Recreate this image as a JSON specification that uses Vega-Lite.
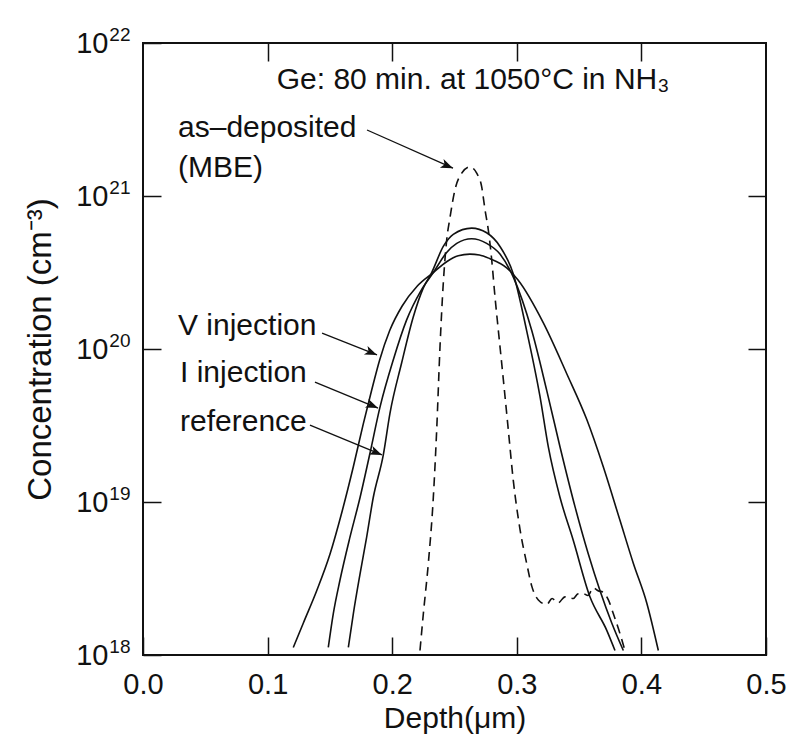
{
  "$schema": "https://vega.github.io/schema/vega-lite/v6.json",
  "width": 623,
  "height": 612,
  "autosize": {"type": "none"},
  "padding": {"left": 143, "top": 43, "right": 30, "bottom": 92},
  "background": "white",
  "config": {
    "font": "Liberation Sans",
    "view": {"stroke": "#111111", "strokeWidth": 2},
    "axis": {
      "grid": false,
      "domain": false,
      "tickColor": "#111111",
      "tickWidth": 1.5,
      "tickSize": -18,
      "labelFont": "Liberation Sans",
      "labelFontSize": 29,
      "labelColor": "#111111",
      "labelOverlap": false,
      "labelBound": false,
      "labelFlush": false,
      "titleFont": "Liberation Sans",
      "titleFontSize": 30,
      "titleFontWeight": "normal",
      "titleColor": "#111111"
    }
  },
  "datasets": {
    "profiles": [
      {"series": "V injection", "depth": 0.1206, "conc": 1.12e18},
      {"series": "V injection", "depth": 0.1287, "conc": 1.62e18},
      {"series": "V injection", "depth": 0.1394, "conc": 2.63e18},
      {"series": "V injection", "depth": 0.1501, "conc": 4.57e18},
      {"series": "V injection", "depth": 0.1595, "conc": 8.51e18},
      {"series": "V injection", "depth": 0.1688, "conc": 1.70e19},
      {"series": "V injection", "depth": 0.1768, "conc": 3.24e19},
      {"series": "V injection", "depth": 0.1835, "conc": 5.37e19},
      {"series": "V injection", "depth": 0.1900, "conc": 8.51e19},
      {"series": "V injection", "depth": 0.1980, "conc": 1.32e20},
      {"series": "V injection", "depth": 0.2080, "conc": 1.91e20},
      {"series": "V injection", "depth": 0.2200, "conc": 2.57e20},
      {"series": "V injection", "depth": 0.2330, "conc": 3.16e20},
      {"series": "V injection", "depth": 0.2437, "conc": 3.72e20},
      {"series": "V injection", "depth": 0.2530, "conc": 4.07e20},
      {"series": "V injection", "depth": 0.2624, "conc": 4.17e20},
      {"series": "V injection", "depth": 0.2700, "conc": 4.12e20},
      {"series": "V injection", "depth": 0.2785, "conc": 3.89e20},
      {"series": "V injection", "depth": 0.2919, "conc": 3.39e20},
      {"series": "V injection", "depth": 0.3010, "conc": 2.82e20},
      {"series": "V injection", "depth": 0.3213, "conc": 1.48e20},
      {"series": "V injection", "depth": 0.3400, "conc": 6.92e19},
      {"series": "V injection", "depth": 0.3561, "conc": 3.47e19},
      {"series": "V injection", "depth": 0.3694, "conc": 1.70e19},
      {"series": "V injection", "depth": 0.3828, "conc": 7.59e18},
      {"series": "V injection", "depth": 0.3935, "conc": 3.98e18},
      {"series": "V injection", "depth": 0.4043, "conc": 2.19e18},
      {"series": "V injection", "depth": 0.4136, "conc": 1.07e18},

      {"series": "I injection", "depth": 0.1487, "conc": 1.12e18},
      {"series": "I injection", "depth": 0.1527, "conc": 1.86e18},
      {"series": "I injection", "depth": 0.1581, "conc": 3.09e18},
      {"series": "I injection", "depth": 0.1661, "conc": 5.89e18},
      {"series": "I injection", "depth": 0.1742, "conc": 1.07e19},
      {"series": "I injection", "depth": 0.1822, "conc": 2.09e19},
      {"series": "I injection", "depth": 0.1902, "conc": 4.17e19},
      {"series": "I injection", "depth": 0.2009, "conc": 8.51e19},
      {"series": "I injection", "depth": 0.2116, "conc": 1.55e20},
      {"series": "I injection", "depth": 0.2230, "conc": 2.40e20},
      {"series": "I injection", "depth": 0.2330, "conc": 3.16e20},
      {"series": "I injection", "depth": 0.2437, "conc": 4.27e20},
      {"series": "I injection", "depth": 0.2518, "conc": 4.90e20},
      {"series": "I injection", "depth": 0.2638, "conc": 5.25e20},
      {"series": "I injection", "depth": 0.2758, "conc": 4.90e20},
      {"series": "I injection", "depth": 0.2865, "conc": 4.17e20},
      {"series": "I injection", "depth": 0.2972, "conc": 2.95e20},
      {"series": "I injection", "depth": 0.3120, "conc": 1.32e20},
      {"series": "I injection", "depth": 0.3240, "conc": 5.37e19},
      {"series": "I injection", "depth": 0.3347, "conc": 2.29e19},
      {"series": "I injection", "depth": 0.3467, "conc": 9.33e18},
      {"series": "I injection", "depth": 0.3574, "conc": 4.57e18},
      {"series": "I injection", "depth": 0.3668, "conc": 2.63e18},
      {"series": "I injection", "depth": 0.3762, "conc": 1.62e18},
      {"series": "I injection", "depth": 0.3855, "conc": 1.07e18},

      {"series": "reference", "depth": 0.1648, "conc": 1.12e18},
      {"series": "reference", "depth": 0.1688, "conc": 1.86e18},
      {"series": "reference", "depth": 0.1742, "conc": 3.39e18},
      {"series": "reference", "depth": 0.1795, "conc": 5.89e18},
      {"series": "reference", "depth": 0.1848, "conc": 1.07e19},
      {"series": "reference", "depth": 0.1929, "conc": 2.04e19},
      {"series": "reference", "depth": 0.1982, "conc": 3.80e19},
      {"series": "reference", "depth": 0.2076, "conc": 8.13e19},
      {"series": "reference", "depth": 0.2169, "conc": 1.62e20},
      {"series": "reference", "depth": 0.2250, "conc": 2.51e20},
      {"series": "reference", "depth": 0.2317, "conc": 3.16e20},
      {"series": "reference", "depth": 0.2410, "conc": 4.68e20},
      {"series": "reference", "depth": 0.2490, "conc": 5.62e20},
      {"series": "reference", "depth": 0.2638, "conc": 6.17e20},
      {"series": "reference", "depth": 0.2758, "conc": 5.75e20},
      {"series": "reference", "depth": 0.2865, "conc": 4.68e20},
      {"series": "reference", "depth": 0.2972, "conc": 3.09e20},
      {"series": "reference", "depth": 0.3079, "conc": 1.32e20},
      {"series": "reference", "depth": 0.3186, "conc": 4.90e19},
      {"series": "reference", "depth": 0.3253, "conc": 2.29e19},
      {"series": "reference", "depth": 0.3347, "conc": 1.07e19},
      {"series": "reference", "depth": 0.3453, "conc": 5.62e18},
      {"series": "reference", "depth": 0.3587, "conc": 2.40e18},
      {"series": "reference", "depth": 0.3722, "conc": 1.45e18},
      {"series": "reference", "depth": 0.3788, "conc": 1.07e18}
    ],
    "asdep": [
      {"series": "as-deposited (MBE)", "depth": 0.2223, "conc": 1.07e18},
      {"series": "as-deposited (MBE)", "depth": 0.2250, "conc": 1.86e18},
      {"series": "as-deposited (MBE)", "depth": 0.2290, "conc": 3.98e18},
      {"series": "as-deposited (MBE)", "depth": 0.2330, "conc": 1.07e19},
      {"series": "as-deposited (MBE)", "depth": 0.2357, "conc": 2.95e19},
      {"series": "as-deposited (MBE)", "depth": 0.2384, "conc": 1.05e20},
      {"series": "as-deposited (MBE)", "depth": 0.2410, "conc": 2.69e20},
      {"series": "as-deposited (MBE)", "depth": 0.2437, "conc": 5.13e20},
      {"series": "as-deposited (MBE)", "depth": 0.2464, "conc": 7.24e20},
      {"series": "as-deposited (MBE)", "depth": 0.2504, "conc": 1.10e21},
      {"series": "as-deposited (MBE)", "depth": 0.2558, "conc": 1.41e21},
      {"series": "as-deposited (MBE)", "depth": 0.2624, "conc": 1.55e21},
      {"series": "as-deposited (MBE)", "depth": 0.2678, "conc": 1.41e21},
      {"series": "as-deposited (MBE)", "depth": 0.2718, "conc": 1.15e21},
      {"series": "as-deposited (MBE)", "depth": 0.2745, "conc": 8.13e20},
      {"series": "as-deposited (MBE)", "depth": 0.2771, "conc": 6.03e20},
      {"series": "as-deposited (MBE)", "depth": 0.2799, "conc": 3.80e20},
      {"series": "as-deposited (MBE)", "depth": 0.2825, "conc": 2.19e20},
      {"series": "as-deposited (MBE)", "depth": 0.2852, "conc": 1.32e20},
      {"series": "as-deposited (MBE)", "depth": 0.2892, "conc": 6.31e19},
      {"series": "as-deposited (MBE)", "depth": 0.2932, "conc": 2.95e19},
      {"series": "as-deposited (MBE)", "depth": 0.2972, "conc": 1.38e19},
      {"series": "as-deposited (MBE)", "depth": 0.3026, "conc": 6.61e18},
      {"series": "as-deposited (MBE)", "depth": 0.3079, "conc": 3.98e18},
      {"series": "as-deposited (MBE)", "depth": 0.3120, "conc": 2.82e18},
      {"series": "as-deposited (MBE)", "depth": 0.3173, "conc": 2.29e18},
      {"series": "as-deposited (MBE)", "depth": 0.3240, "conc": 2.14e18},
      {"series": "as-deposited (MBE)", "depth": 0.3283, "conc": 2.34e18},
      {"series": "as-deposited (MBE)", "depth": 0.3331, "conc": 2.19e18},
      {"series": "as-deposited (MBE)", "depth": 0.3387, "conc": 2.40e18},
      {"series": "as-deposited (MBE)", "depth": 0.3453, "conc": 2.34e18},
      {"series": "as-deposited (MBE)", "depth": 0.3491, "conc": 2.51e18},
      {"series": "as-deposited (MBE)", "depth": 0.3534, "conc": 2.51e18},
      {"series": "as-deposited (MBE)", "depth": 0.3571, "conc": 2.45e18},
      {"series": "as-deposited (MBE)", "depth": 0.3614, "conc": 2.75e18},
      {"series": "as-deposited (MBE)", "depth": 0.3652, "conc": 2.63e18},
      {"series": "as-deposited (MBE)", "depth": 0.3694, "conc": 2.57e18},
      {"series": "as-deposited (MBE)", "depth": 0.3735, "conc": 2.29e18},
      {"series": "as-deposited (MBE)", "depth": 0.3775, "conc": 1.86e18},
      {"series": "as-deposited (MBE)", "depth": 0.3828, "conc": 1.38e18},
      {"series": "as-deposited (MBE)", "depth": 0.3868, "conc": 1.07e18}
    ],
    "notes": [
      {"kind": "title", "text": "Ge: 80 min. at 1050°C in NH₃", "depth": 0.2649, "conc": 5.75e21},
      {"kind": "label", "text": "as–deposited", "depth": 0.0281, "conc": 2.78e21},
      {"kind": "label", "text": "(MBE)", "depth": 0.0281, "conc": 1.52e21},
      {"kind": "label", "text": "V injection", "depth": 0.0281, "conc": 1.41e20},
      {"kind": "label", "text": "I injection", "depth": 0.0297, "conc": 6.97e19},
      {"kind": "label", "text": "reference", "depth": 0.0297, "conc": 3.33e19}
    ],
    "arrows": [
      {"target": "as-deposited (MBE)", "depth": 0.1798, "conc": 2.70e21, "depth_tip": 0.2488, "conc_tip": 1.52e21},
      {"target": "V injection", "depth": 0.1437, "conc": 1.27e20, "depth_tip": 0.1878, "conc_tip": 9.14e19},
      {"target": "I injection", "depth": 0.1380, "conc": 6.08e19, "depth_tip": 0.1886, "conc_tip": 4.11e19},
      {"target": "reference", "depth": 0.1340, "conc": 3.18e19, "depth_tip": 0.1918, "conc_tip": 2.03e19}
    ]
  },
  "layer": [
    {
      "data": {"name": "profiles"},
      "mark": {"type": "line", "color": "#111111", "strokeWidth": 1.6, "interpolate": "monotone", "clip": true},
      "encoding": {
        "x": {
          "field": "depth", "type": "quantitative",
          "scale": {"domain": [0, 0.5], "nice": false, "zero": false},
          "axis": {"orient": "bottom", "values": [0, 0.1, 0.2, 0.3, 0.4, 0.5], "format": ".1f", "labelPadding": 33, "title": "Depth(μm)", "titlePadding": 4}
        },
        "y": {
          "field": "conc", "type": "quantitative",
          "scale": {"type": "log", "domain": [1e18, 1e22], "nice": false},
          "axis": {"orient": "left", "values": [1e18, 1e19, 1e20, 1e21, 1e22], "labelPadding": 53, "labelExpr": "'10'", "title": "Concentration (cm⁻³)", "titleFontSize": 33, "titlePadding": 18}
        },
        "detail": {"field": "series"}
      }
    },
    {
      "data": {"name": "asdep"},
      "mark": {"type": "line", "color": "#111111", "strokeWidth": 1.6, "strokeDash": [9, 6], "interpolate": "monotone", "clip": true},
      "encoding": {
        "x": {
          "field": "depth", "type": "quantitative",
          "scale": {"domain": [0, 0.5], "nice": false, "zero": false},
          "axis": {"orient": "top", "values": [0.1, 0.2, 0.3, 0.4], "labels": false, "title": null}
        },
        "y": {
          "field": "conc", "type": "quantitative",
          "scale": {"type": "log", "domain": [1e18, 1e22], "nice": false},
          "axis": {"orient": "right", "values": [1e19, 1e20, 1e21], "labels": false, "title": null}
        }
      }
    },
    {
      "data": {"name": "arrows"},
      "mark": {"type": "rule", "color": "#111111", "strokeWidth": 1.3},
      "encoding": {
        "x": {"field": "depth", "type": "quantitative", "scale": {"domain": [0, 0.5], "nice": false, "zero": false}, "axis": null},
        "y": {
          "field": "conc", "type": "quantitative",
          "scale": {"type": "log", "domain": [1e18, 1e22], "nice": false},
          "axis": {"orient": "left", "values": [1e18, 1e19, 1e20, 1e21, 1e22], "ticks": false, "tickSize": 0, "labelPadding": 13, "labelOffset": -9, "labelFontSize": 19, "labelExpr": "toString(round(log(datum.value)/LN10))", "title": null}
        },
        "x2": {"field": "depth_tip"},
        "y2": {"field": "conc_tip"}
      }
    },
    {
      "data": {"name": "arrows"},
      "mark": {"type": "point", "shape": "M0,0 L-1,-0.38 L-0.75,0 L-1,0.38 Z", "filled": true, "color": "#111111", "opacity": 1, "size": 600, "angle": 23},
      "encoding": {
        "x": {"field": "depth_tip", "type": "quantitative", "scale": {"domain": [0, 0.5], "nice": false, "zero": false}, "axis": null},
        "y": {"field": "conc_tip", "type": "quantitative", "scale": {"type": "log", "domain": [1e18, 1e22], "nice": false}, "axis": null}
      }
    },
    {
      "data": {"name": "notes"},
      "transform": [{"filter": "datum.kind === 'title'"}],
      "mark": {"type": "text", "align": "center", "baseline": "middle", "fontSize": 30, "font": "Liberation Sans", "color": "#111111"},
      "encoding": {
        "x": {"field": "depth", "type": "quantitative", "scale": {"domain": [0, 0.5], "nice": false, "zero": false}, "axis": null},
        "y": {"field": "conc", "type": "quantitative", "scale": {"type": "log", "domain": [1e18, 1e22], "nice": false}, "axis": null},
        "text": {"field": "text"}
      }
    },
    {
      "data": {"name": "notes"},
      "transform": [{"filter": "datum.kind === 'label'"}],
      "mark": {"type": "text", "align": "left", "baseline": "middle", "fontSize": 30, "font": "Liberation Sans", "color": "#111111"},
      "encoding": {
        "x": {"field": "depth", "type": "quantitative", "scale": {"domain": [0, 0.5], "nice": false, "zero": false}, "axis": null},
        "y": {"field": "conc", "type": "quantitative", "scale": {"type": "log", "domain": [1e18, 1e22], "nice": false}, "axis": null},
        "text": {"field": "text"}
      }
    }
  ],
  "resolve": {"axis": {"x": "independent", "y": "independent"}}
}
